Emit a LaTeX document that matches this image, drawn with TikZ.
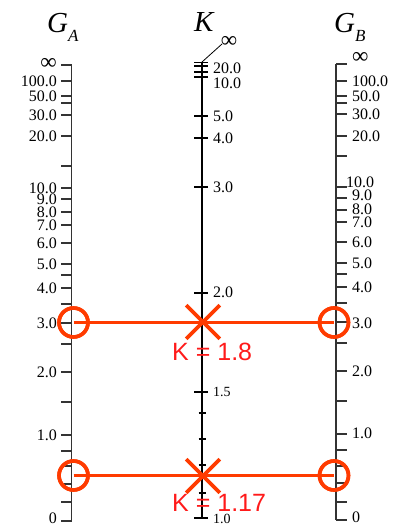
\documentclass[tikz,border=0pt]{standalone}
\usepackage{fontspec}
\setmainfont{Liberation Serif}
\newfontfamily\resultfont{Liberation Sans}
\usepackage{tikz}
\usetikzlibrary{shapes.misc}
\definecolor{markRed}{HTML}{FF3B00}
\definecolor{textRed}{HTML}{FF1A1A}
\definecolor{axisGray}{HTML}{333333}
\newcommand{\infsign}{{\fontsize{23}{23}\selectfont ∞}}

\begin{document}
\begin{tikzpicture}[x=1pt, y=-1pt,
  gaxis/.style={axisGray, line width=1.6pt},
  kaxis/.style={black, line width=1.2pt},
  gtick/.style={axisGray, line width=1.3pt},
  ktick/.style={black, line width=1.2pt},
  ticklabel/.style={font=\fontsize{16}{16}\selectfont, inner sep=0pt},
  smalllabel/.style={font=\fontsize{14}{14}\selectfont, inner sep=0pt},
  title/.style={font=\fontsize{29}{29}\selectfont\itshape, inner sep=0pt, anchor=base west},
  ring/.style={circle, draw=markRed, line width=3.6pt, minimum size=29pt, inner sep=0pt},
  hit/.style={cross out, draw=markRed, line width=3.6pt, minimum size=30pt, inner sep=0pt},
  link/.style={markRed, line width=3.6pt},
  result/.style={font=\resultfont\fontsize{25}{25}\selectfont, text=textRed, anchor=west, inner sep=0pt}
]
\useasboundingbox (0,0) rectangle (398,526);

% titles
\node[title] (titleA) at (47,33) {G\raisebox{-9pt}{\fontsize{17}{17}\selectfont A}};
\node[title] (titleK) at (194,32) {K};
\node[title] (titleB) at (334,33) {G\raisebox{-9pt}{\fontsize{17}{17}\selectfont B}};

% G_A scale
\coordinate (gaTop) at (71.5,65);
\coordinate (gaBot) at (71.5,521);
\draw[gaxis] (gaTop) -- (gaBot);
\foreach \y in {65,81,96,103,115,136,166,188,199,212,225,243,264,275,288,304,323,344,372,402,435,451,466,484,502,521}
  \draw[gtick] (61,\y) -- (71.5,\y);
\node[ticklabel, anchor=east] (gaLinf) at (57,64) {\infsign};
\foreach \y/\txt in {81/100.0,96/50.0,115/30.0,136/20.0,188/10.0,199/9.0,212/8.0,225/7.0,243/6.0,264/5.0,288/4.0,323/3.0,372/2.0,435/1.0,518/0}
  \node[ticklabel, anchor=east] (gaL\y) at (57,\y) {\txt};

% G_B scale
\coordinate (gbTop) at (336,64);
\coordinate (gbBot) at (336,520);
\draw[gaxis] (gbTop) -- (gbBot);
\foreach \y in {64,81,96,103,114,136,156,187,198,210,222,242,263,274,287,303,322,343,371,401,434,450,466,483,502,520}
  \draw[gtick] (336,\y) -- (347,\y);
\node[ticklabel, anchor=west] (gbLinf) at (352,58) {\infsign};
\foreach \y/\txt in {81/100.0,96/50.0,114/30.0,136/20.0,195/9.0,209/8.0,222/7.0,242/6.0,263/5.0,287/4.0,323/3.0,371/2.0,433/1.0,517/0}
  \node[ticklabel, anchor=west] (gbL\y) at (352,\y) {\txt};
\node[ticklabel, anchor=west] (gbL182) at (346,182) {10.0};

% K scale
\coordinate (kTop) at (202,62);
\coordinate (kBot) at (202,519);
\coordinate (kInf) at (222,44);
\draw[kaxis] (kTop) -- (kBot);
\draw[ktick, line width=0.8pt] (kTop) -- (kInf);
\node[ticklabel] (kLinf) at (229,42) {\infsign};
\foreach \y in {62.5,66,72,77,116,138,187,293,392,518}
  \draw[ktick] (194,\y) -- (208,\y);
\foreach \y in {413,439,465,493}
  \draw[ktick] (198.5,\y) -- (206,\y);
\foreach \y/\txt in {68/20.0,83/10.0,116/5.0,138/4.0,187/3.0,292/2.0}
  \node[ticklabel, anchor=west] (kL\y) at (213,\y) {\txt};
\node[smalllabel, anchor=west] (kL392) at (213,392) {1.5};
\node[smalllabel, anchor=west] (kL519) at (213,519) {1.0};

% first reading
\node[ring] (ringA1) at (73.5,322.5) {};
\node[ring] (ringB1) at (334,322.5) {};
\node[hit] (hit1) at (203,322) {};
\draw[link] (ringA1.center) -- (ringB1.center);
\node[ring] at (ringA1) {};
\node[ring] at (ringB1) {};
\node[result] (res1) at (172,352) {K = 1.8};

% second reading
\node[ring] (ringA2) at (73.5,475.5) {};
\node[ring] (ringB2) at (334,475.5) {};
\node[hit] (hit2) at (203,476) {};
\draw[link] (ringA2.center) -- (ringB2.center);
\node[ring] at (ringA2) {};
\node[ring] at (ringB2) {};
\node[result] (res2) at (172,503) {K = 1.17};
\end{tikzpicture}
\end{document}
